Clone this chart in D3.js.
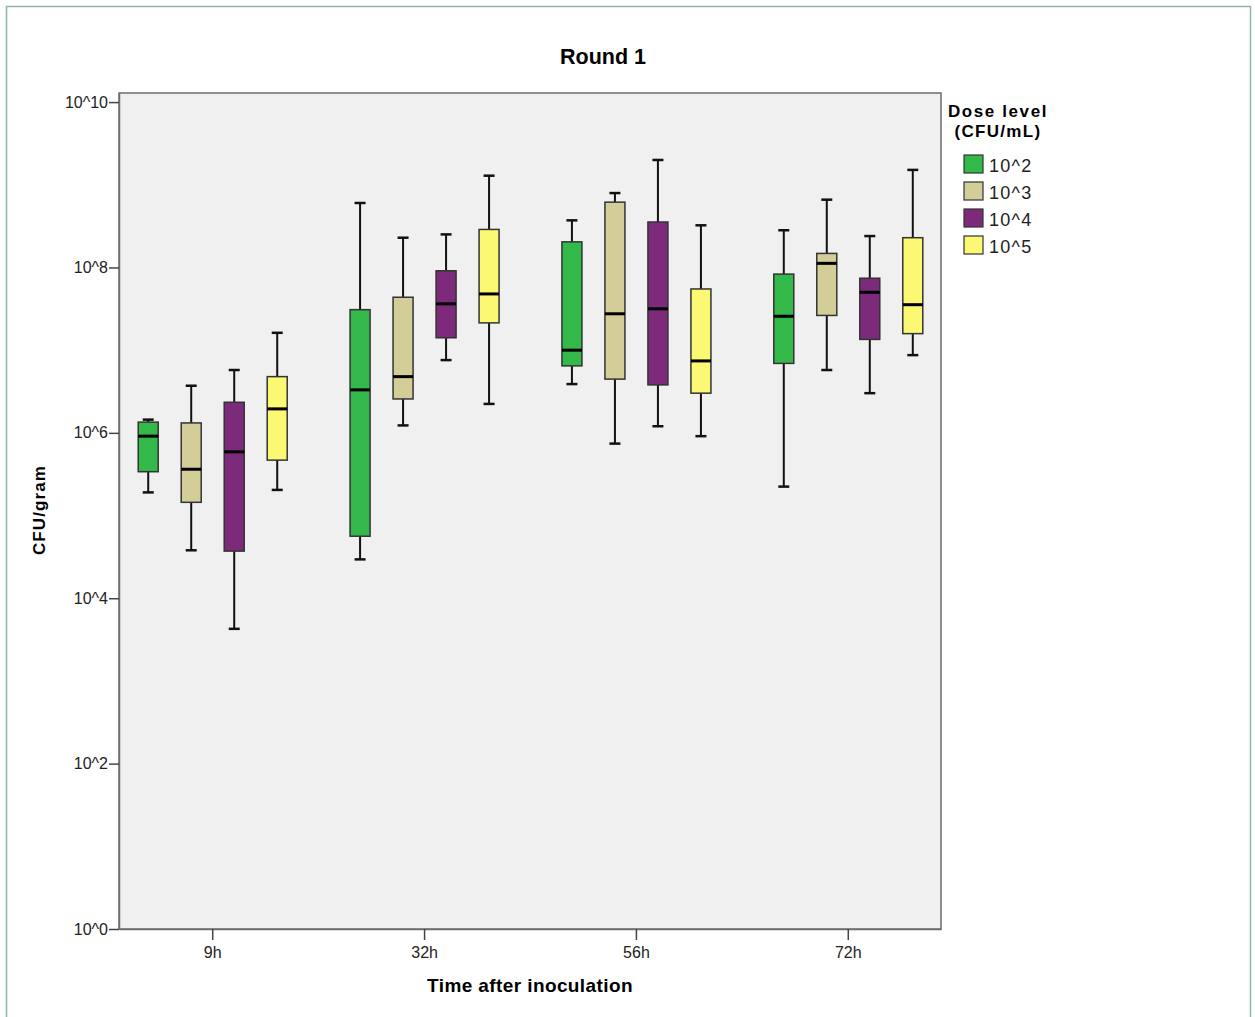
<!DOCTYPE html>
<html>
<head>
<meta charset="utf-8">
<script src="https://cdn.jsdelivr.net/npm/d3@7"></script>
<style>
  body { margin: 0; background: #fff; }
  text { font-family: "Liberation Sans", Arial, sans-serif; }
</style>
</head>
<body>
<script>
// box plot, log10 values: [min, q1, median, q3, max]
const times = ["9h", "32h", "56h", "72h"];
const doses = ["10^2", "10^3", "10^4", "10^5"];
const doseColors = ["#33b84a", "#d3ce97", "#7d2a7a", "#fbf873"];
const yTicks = [0, 2, 4, 6, 8, 10];

const dose2 = [[5.28, 5.53, 5.96, 6.13, 6.16], [4.47, 4.75, 6.52, 7.49, 8.78], [6.59, 6.81, 7.00, 8.31, 8.57], [5.35, 6.84, 7.41, 7.92, 8.45]];
const dose3 = [[4.58, 5.16, 5.56, 6.12, 6.57], [6.09, 6.41, 6.68, 7.64, 8.36], [5.87, 6.65, 7.44, 8.79, 8.90], [6.76, 7.42, 8.05, 8.17, 8.82]];
const dose4 = [[3.63, 4.57, 5.77, 6.37, 6.76], [6.88, 7.15, 7.56, 7.96, 8.40], [6.08, 6.58, 7.50, 8.55, 9.30], [6.48, 7.13, 7.70, 7.87, 8.38]];
const dose5 = [[5.31, 5.67, 6.29, 6.68, 7.21], [6.35, 7.33, 7.68, 8.46, 9.11], [5.96, 6.48, 6.87, 7.74, 8.51], [6.94, 7.20, 7.55, 8.36, 9.18]];
const series = [dose2, dose3, dose4, dose5];

const W = 1255, H = 1017;
const plot = {left: 119, right: 941, top: 93, bottom: 929};

const svg = d3.select("body").append("svg")
    .attr("width", W)
    .attr("height", H);

// outer frame
svg.append("rect")
    .attr("x", 6.5).attr("y", 6.5)
    .attr("width", 1244).attr("height", 1020)
    .attr("fill", "none")
    .attr("stroke", "#8fb8a0")
    .attr("stroke-width", 1.5);

const x = d3.scalePoint().domain(times).range([plot.left, plot.right]).padding(0.44);
const xDose = d3.scalePoint().domain(doses).range([-64, 65]);
const y = d3.scaleLog().domain([1, Math.pow(10, 10.11)]).range([plot.bottom, plot.top]);

svg.append("rect")
    .attr("x", plot.left).attr("y", plot.top)
    .attr("width", plot.right - plot.left).attr("height", plot.bottom - plot.top)
    .attr("fill", "#f0f0f0")
    .attr("stroke", "#6e6e6e")
    .attr("stroke-width", 1.5);

// y axis
const yAxis = svg.append("g")
    .attr("transform", `translate(${plot.left},0)`)
    .call(d3.axisLeft(y).tickValues(yTicks.map(d => Math.pow(10, d)))
        .tickSize(10).tickSizeOuter(0).tickPadding(1)
        .tickFormat((d, i) => "10^" + yTicks[i]));
yAxis.select(".domain").attr("stroke", "#6e6e6e").attr("stroke-width", 1.5);
yAxis.selectAll(".tick line").attr("stroke", "#444").attr("stroke-width", 1.5);
yAxis.selectAll(".tick text").attr("font-size", 16).attr("fill", "#222")
    .attr("font-family", "Liberation Sans, Arial, sans-serif");

// x axis
const xAxis = svg.append("g")
    .attr("transform", `translate(0,${plot.bottom})`)
    .call(d3.axisBottom(x).tickSize(11).tickSizeOuter(0).tickPadding(7));
xAxis.select(".domain").attr("stroke", "#6e6e6e").attr("stroke-width", 1.5);
xAxis.selectAll(".tick line").attr("stroke", "#444").attr("stroke-width", 1.5);
xAxis.selectAll(".tick text").attr("font-size", 16).attr("fill", "#222")
    .attr("font-family", "Liberation Sans, Arial, sans-serif");

// boxes
const boxW = 20, capW = 11;
series.forEach((s, k) => {
    const g = svg.append("g");
    s.forEach((v, i) => {
        const cx = x(times[i]) + xDose(doses[k]);
        const p = v.map(d => y(Math.pow(10, d)));
        // whiskers
        g.append("line").attr("x1", cx).attr("x2", cx).attr("y1", p[4]).attr("y2", p[3])
            .attr("stroke", "#111").attr("stroke-width", 2);
        g.append("line").attr("x1", cx).attr("x2", cx).attr("y1", p[1]).attr("y2", p[0])
            .attr("stroke", "#111").attr("stroke-width", 2);
        [p[0], p[4]].forEach(yy => {
            g.append("line").attr("x1", cx - capW / 2).attr("x2", cx + capW / 2)
                .attr("y1", yy).attr("y2", yy)
                .attr("stroke", "#111").attr("stroke-width", 2.5);
        });
        g.append("rect")
            .attr("x", cx - boxW / 2).attr("y", p[3])
            .attr("width", boxW).attr("height", p[1] - p[3])
            .attr("fill", doseColors[k])
            .attr("stroke", "#333").attr("stroke-width", 1.5);
        g.append("line").attr("x1", cx - boxW / 2).attr("x2", cx + boxW / 2)
            .attr("y1", p[2]).attr("y2", p[2])
            .attr("stroke", "#000").attr("stroke-width", 3);
    });
});

// title and axis labels
svg.append("text")
    .attr("x", 603).attr("y", 64)
    .attr("text-anchor", "middle")
    .attr("font-size", 21.5).attr("font-weight", "bold")
    .text("Round 1");

svg.append("text")
    .attr("x", (plot.left + plot.right) / 2).attr("y", 992)
    .attr("text-anchor", "middle")
    .attr("font-size", 19).attr("font-weight", "bold")
    .attr("letter-spacing", 0.4)
    .text("Time after inoculation");

svg.append("text")
    .attr("transform", "translate(45,510) rotate(-90)")
    .attr("text-anchor", "middle")
    .attr("font-size", 17).attr("font-weight", "bold")
    .attr("letter-spacing", 1.1)
    .text("CFU/gram");

// legend
const leg = svg.append("g");
leg.append("text").attr("x", 998).attr("y", 117).attr("text-anchor", "middle")
    .attr("font-size", 17).attr("font-weight", "bold").attr("letter-spacing", 1.6)
    .text("Dose level");
leg.append("text").attr("x", 998).attr("y", 137).attr("text-anchor", "middle")
    .attr("font-size", 17).attr("font-weight", "bold").attr("letter-spacing", 1.3)
    .text("(CFU/mL)");

doses.forEach((d, i) => {
    const yy = 155 + i * 27;
    leg.append("rect")
        .attr("x", 964).attr("y", yy)
        .attr("width", 19).attr("height", 18)
        .attr("fill", doseColors[i])
        .attr("stroke", "#333").attr("stroke-width", 1.2);
    leg.append("text")
        .attr("x", 989).attr("y", yy + 17)
        .attr("font-size", 18).attr("fill", "#222").attr("letter-spacing", 1.3)
        .text(d);
});
</script>
</body>
</html>
